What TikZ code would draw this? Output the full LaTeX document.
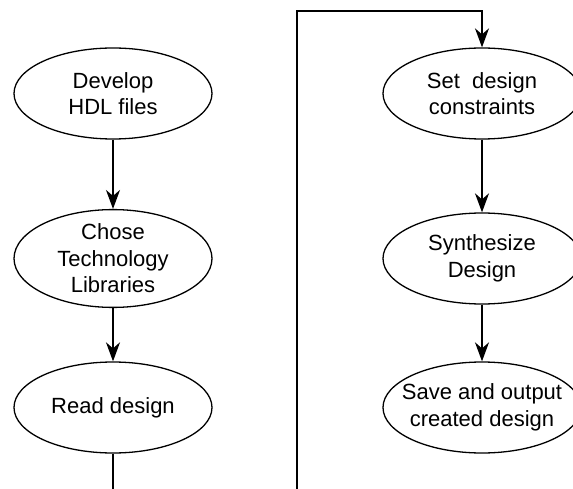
\documentclass[tikz,border=0pt]{standalone}
\usepackage{fontspec}
\setmainfont{Liberation Sans}
\usetikzlibrary{shapes.geometric,arrows.meta}
\begin{document}
\begin{tikzpicture}[x=1pt,y=-1pt,
  stage/.style={ellipse,draw=black,line width=1.3pt,fill=white,
    minimum width=198pt,minimum height=91pt,inner xsep=-20pt,inner ysep=0pt,
    align=center,font=\fontsize{22}{26.5}\selectfont},
  flow/.style={line width=1.6pt,-{Stealth[length=19pt,width=14pt,inset=6pt]}},
  plain/.style={line width=1.6pt}]
\useasboundingbox (0,0) rectangle (573,489);
\clip (0,0) rectangle (573,489);

% left column
\node[stage] (hdl)  at (113,93.5)  {Develop\\HDL files};
\node[stage] (lib)  at (113,258.5) {Chose\\Technology\\Libraries};
\node[stage] (read) at (113,407.5) {Read design};

% right column
\node[stage] (cons) at (482,93.5)  {Set~ design\\constraints};
\node[stage] (syn)  at (482,258.5) {Synthesize\\Design};
\node[stage] (save) at (482,407.5) {Save and output\\created design};

% connectors
\draw[flow] (hdl) -- (lib);
\draw[flow] (lib) -- (read);
\draw[flow] (cons) -- (syn);
\draw[flow] (syn) -- (save);

\coordinate (leftend) at (113,489);
\coordinate (loopstart) at (297,489);
\coordinate (looptop) at (482,11);
\draw[plain] (read) -- (leftend);
\draw[flow] (loopstart) |- (looptop) -- (cons);
\end{tikzpicture}
\end{document}
